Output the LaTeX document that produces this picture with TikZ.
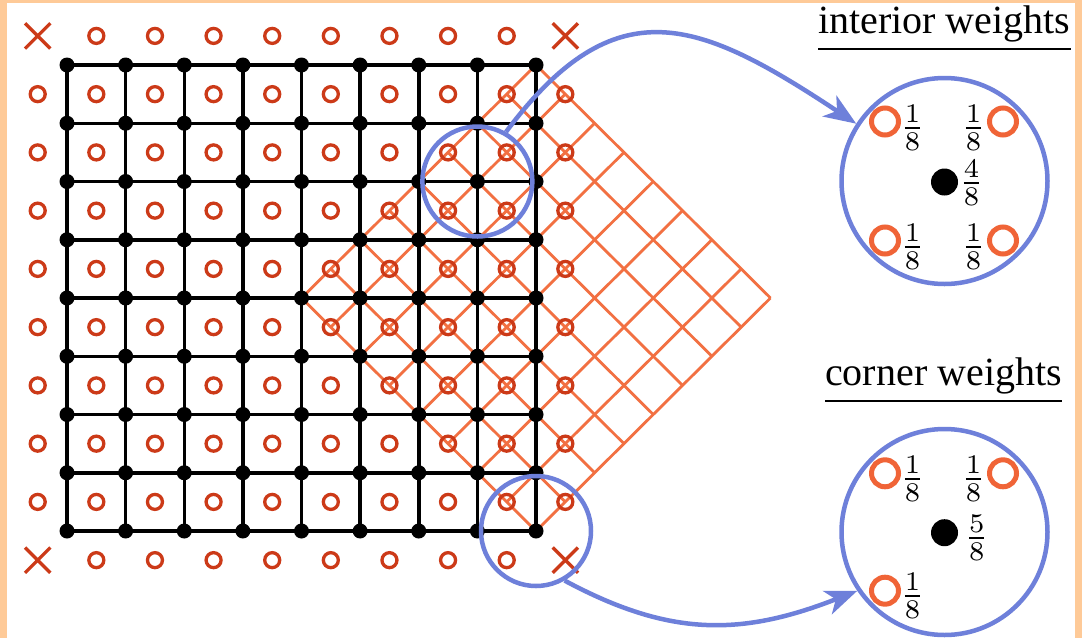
\documentclass[tikz,border=0pt]{standalone}
\usepackage{fontspec}
\usepackage{graphicx}
\newfontfamily\headfont{Liberation Serif}
\usetikzlibrary{arrows.meta,calc,shapes.misc}
\definecolor{peach}{RGB}{254,202,152}
\definecolor{ored}{RGB}{204,58,24}
\definecolor{meshc}{RGB}{242,112,66}
\definecolor{lorange}{RGB}{240,100,55}
\definecolor{mblue}{RGB}{110,128,218}
\tikzset{
  dot/.style={circle,fill=black,inner sep=0pt,minimum size=15pt},
  gridline/.style={line width=3.5pt},
  meshline/.style={draw=meshc,line width=2.8pt},
  ring/.style={circle,draw=ored,line width=3.3pt,inner sep=0pt,minimum size=15pt},
  xmark/.style={cross out,draw=ored,line width=3.3pt,inner sep=0pt,minimum size=22pt},
  mag/.style={circle,draw=mblue,line width=4.5pt,inner sep=0pt,minimum size=110pt},
  bigmag/.style={circle,draw=mblue,line width=4.5pt,inner sep=0pt,minimum size=206pt},
  bigdot/.style={circle,fill=black,inner sep=0pt,minimum size=27pt},
  bigring/.style={circle,draw=lorange,line width=5pt,inner sep=0pt,minimum size=27pt},
  frac/.style={inner sep=0pt},
  head/.style={anchor=base west,inner sep=0pt,font=\headfont\fontsize{40}{46}\selectfont},
  uline/.style={line width=2.5pt},
  arr/.style={draw=mblue,line width=4.5pt,-{Stealth[length=32pt,width=25pt,inset=9pt]}}
}
\newcommand{\wfrac}[2]{\scalebox{3.85}{$\frac{#1}{#2}$}}
\begin{document}
\begin{tikzpicture}[x=1pt,y=-1pt]
\useasboundingbox (0,0) rectangle (1082,638);
\fill[peach] (0,0) rectangle (1082,638);
\fill[white] (7,3) rectangle (1075,638);

% black grid nodes
\foreach \i in {0,...,8}{
  \foreach \j in {0,...,8}{
    \coordinate (p-\i-\j) at ({67+58.625*\i},{65+58.25*\j});
  }
}
% orange diamond mesh
\coordinate (T) at (p-8-0);
\coordinate (B) at (p-8-8);
\coordinate (L) at (p-4-4);
\coordinate (R) at ($(p-8-4)+(234.5,0)$);
\foreach \k in {0,...,8}{
  \pgfmathsetmacro\s{\k/8}
  \draw[meshline] ($(L)!\s!(T)$) -- ($(B)!\s!(R)$);
  \draw[meshline] ($(L)!\s!(B)$) -- ($(T)!\s!(R)$);
}
% black grid lines
\foreach \i in {0,...,7}{
  \foreach \j in {0,...,8}{
    \pgfmathtruncatemacro\ii{\i+1}
    \draw[gridline] (p-\i-\j) -- (p-\ii-\j);
    \draw[gridline] (p-\j-\i) -- (p-\j-\ii);
  }
}
\foreach \i in {0,...,8}{
  \foreach \j in {0,...,8}{
    \node[dot] (n-\i-\j) at (p-\i-\j) {};
  }
}
% orange circles and crosses
\foreach \i in {0,...,9}{
  \foreach \j in {0,...,9}{
    \pgfmathtruncatemacro\c{((\i==0)||(\i==9))&&((\j==0)||(\j==9))}
    \ifnum\c=1
      \node[xmark] (o-\i-\j) at ({37.7+58.625*\i},{35.9+58.25*\j}) {};
    \else
      \node[ring] (o-\i-\j) at ({37.7+58.625*\i},{35.9+58.25*\j}) {};
    \fi
  }
}
% magnifier circles
\node[mag] (mag1) at (n-7-2) {};
\node[mag] (mag2) at (n-8-8) {};

% right: interior weights
\node[head] (h1) at (818,33) {interior weights};
\draw[uline] ([yshift=-16pt]h1.base west) -- ([yshift=-16pt]h1.base east);
\node[bigmag] (w1) at (944.5,181) {};
\node[bigdot] (c1) at (944.5,182) {};
\node[bigring] (a1) at (885,121.5) {};
\node[bigring] (a2) at (1003,121.5) {};
\node[bigring] (a3) at (885,240.5) {};
\node[bigring] (a4) at (1003,240.5) {};
\node[frac] (f1) at (912.5,128) {\wfrac{1}{8}};
\node[frac] (f2) at (973.5,128) {\wfrac{1}{8}};
\node[frac] (f3) at (971.5,183) {\wfrac{4}{8}};
\node[frac] (f4) at (912.5,247) {\wfrac{1}{8}};
\node[frac] (f5) at (973.5,247) {\wfrac{1}{8}};

% right: corner weights
\node[head] (h2) at (825,385) {corner weights};
\draw[uline] ([yshift=-16pt]h2.base west) -- ([yshift=-16pt]h2.base east);
\node[bigmag] (w2) at (944.5,532) {};
\node[bigdot] (c2) at (944.5,532.7) {};
\node[bigring] (b1) at (885,473.3) {};
\node[bigring] (b2) at (1003,473.3) {};
\node[bigring] (b3) at (885,590.7) {};
\node[frac] (g1) at (912.5,479) {\wfrac{1}{8}};
\node[frac] (g2) at (973.5,479) {\wfrac{1}{8}};
\node[frac] (g3) at (976.7,538) {\wfrac{5}{8}};
\node[frac] (g4) at (912.5,596) {\wfrac{1}{8}};

% arrows
\draw[arr] (mag1.60) .. controls +(110,-147) and +(-157,-104) .. (w1.147);
\draw[arr] (mag2.-60) .. controls +(106,57) and +(-115,45) .. (w2.214);
\end{tikzpicture}
\end{document}
